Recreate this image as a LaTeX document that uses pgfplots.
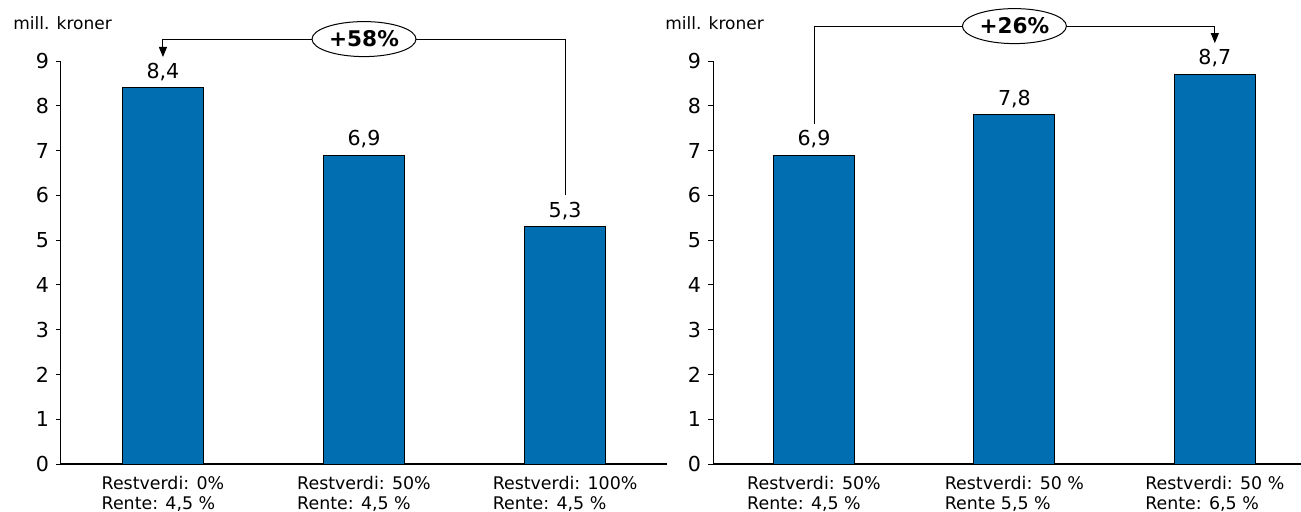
\documentclass[border=0pt]{standalone}
\usepackage{fontspec}
\setmainfont{DejaVu Sans}
\usepackage{pgfplots}
\pgfplotsset{compat=1.18}
\usetikzlibrary{shapes.geometric,arrows.meta}
\definecolor{barblue}{RGB}{0,110,176}

\pgfplotsset{
  kroner/.style={
    scale only axis,
    height=201.5pt,
    ymin=0, ymax=9,
    ytick={0,...,9},
    xtick={0,1,2},
    axis x line*=bottom,
    axis y line*=left,
    axis line style={black, line width=0.5pt},
    x axis line style={line width=1pt},
    tick align=outside,
    major tick length=2.5pt,
    major x tick style={draw=none},
    major y tick style={black, line width=0.5pt},
    /pgf/number format/assume math mode=true,
    yticklabel style={font=\fontsize{10.3}{12}\selectfont},
    xticklabel style={font=\fontsize{8.7}{10}\selectfont, align=left},
    ybar,
    bar width=40.5pt,
    clip=false,
    nodes near coords={\pgfmathprintnumber[fixed,fixed zerofill,precision=1,use comma]{\pgfplotspointmeta}},
    nodes near coords style={font=\fontsize{10.3}{12}\selectfont, black},
  },
}
\tikzset{
  pct/.style={ellipse, draw, line width=0.5pt, fill=white, minimum width=52pt,
    minimum height=17.5pt, inner sep=0pt, font=\bfseries\fontsize{10.8}{12}\selectfont},
  bracket/.style={line width=0.5pt, -{Triangle[width=4pt,length=5pt]}},
}

\begin{document}
\begin{tikzpicture}
\path[use as bounding box] (0,0) rectangle (650.5pt,255.5pt);

% Left panel: varying residual value
\begin{axis}[kroner,
    at={(30.5pt,23.5pt)}, anchor=south west,
    width=303pt, xmin=-0.507, xmax=2.507,
    xticklabels={{Restverdi: 0\%\\Rente: 4,5 \%},
                 {Restverdi: 50\%\\Rente: 4,5 \%},
                 {Restverdi: 100\%\\Rente: 4,5 \%}}]
\addplot[fill=barblue, draw=black, line width=0.5pt] coordinates {(0,8.4) (1,6.9) (2,5.3)};
\draw[bracket] (axis cs:2,6.0) |- (axis cs:0,9.49) -- (axis cs:0,9.09);
\node[pct] at (axis cs:1,9.49) {+58\%};
\end{axis}

% Right panel: varying interest rate
\begin{axis}[kroner,
    at={(356.5pt,23.5pt)}, anchor=south west,
    width=294pt, xmin=-0.504, xmax=2.43,
    xticklabels={{Restverdi: 50\%\\Rente: 4,5 \%},
                 {Restverdi: 50 \%\\Rente 5,5 \%},
                 {Restverdi: 50 \%\\Rente: 6,5 \%}}]
\addplot[fill=barblue, draw=black, line width=0.5pt] coordinates {(0,6.9) (1,7.8) (2,8.7)};
\draw[bracket] (axis cs:0,7.6) |- (axis cs:2,9.78) -- (axis cs:2,9.40);
\node[pct] at (axis cs:1,9.78) {+26\%};
\end{axis}

\node[anchor=west, inner sep=0pt, font=\fontsize{8.5}{10}\selectfont] at (6.5pt,244pt) {mill. kroner};
\node[anchor=west, inner sep=0pt, font=\fontsize{8.5}{10}\selectfont] at (332.5pt,244pt) {mill. kroner};
\end{tikzpicture}
\end{document}
